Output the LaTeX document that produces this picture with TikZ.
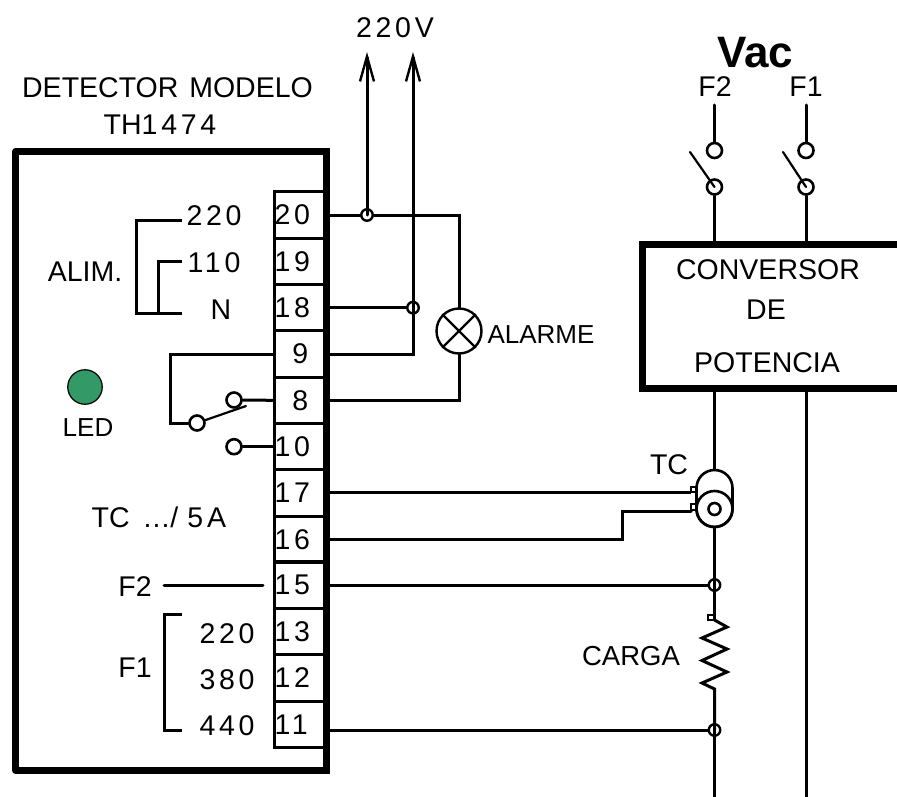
\documentclass[tikz,border=0pt]{standalone}
\usepackage{fontspec}
\setmainfont{Liberation Sans}
\newfontfamily\spcfont[LetterSpace=13]{Liberation Sans}
\usetikzlibrary{arrows.meta}
\definecolor{ledgreen}{HTML}{339966}
\tikzset{
  wire/.style={line width=3pt,line cap=round,line join=miter},
  thin wire/.style={line width=2.2pt,line cap=round},
  heavy/.style={line width=7pt,line join=round},
  term/.style={draw,line width=3pt,minimum width=52.5pt,minimum height=46.33pt,inner sep=0pt,text width=52.5pt,align=left,font=\fontsize{28.5}{28.5}\selectfont\spcfont},
  termc/.style={term,align=center},
  txt/.style={inner sep=0pt,font=\fontsize{28.5}{34}\selectfont},
  stxt/.style={inner sep=0pt,font=\fontsize{28.5}{34}\selectfont\spcfont},
  dot/.style={circle,draw,line width=2.4pt,inner sep=0pt,minimum size=11.5pt},
  contact/.style={circle,draw,fill=white,line width=2.6pt,inner sep=0pt,minimum size=15pt},
  pad/.style={rectangle,draw,fill=white,line width=2.2pt,inner sep=0pt,minimum size=5.5pt},
  barb/.style={-{Straight Barb[length=25pt,width=14pt,line width=2.4pt]}}
}
\begin{document}
\begin{tikzpicture}[x=1pt,y=-1pt]
\useasboundingbox (0,0) rectangle (897,797);

% main box
\node[draw,heavy,minimum width=311pt,minimum height=618pt,inner sep=0pt] (det) at (171,461) {};

% terminal strip
\foreach \lab/\yy in {20/215,19/261.5,18/307.7,15/585,13/631.5,12/678,11/724.5,10/446.7,17/493,16/539.3}{
  \node[term] (t\lab) at (300.3,\yy) {\hspace*{0.5pt}\lab};
}
\foreach \lab/\yy in {9/354,8/400.3}{
  \node[termc] (t\lab) at (300.3,\yy) {\lab};
}
\draw[heavy] (326.5,148.5) -- (326.5,773.5);

% converter
\coordinate (cTR) at (897,244.5);
\coordinate (cTL) at (642.5,244.5);
\coordinate (cBL) at (642.5,388.5);
\coordinate (cBR) at (897,388.5);
\draw[heavy,line join=miter] (cTR) -- (cTL) -- (cBL) -- (cBR);
\node[txt] (conv1) at (768,270) {CONVERSOR};
\node[txt] (conv2) at (766,310) {DE};
\node[txt] (conv3) at (767,363) {POTENCIA};

% mains labels and switches
\node[inner sep=0pt,font=\fontsize{44}{44}\selectfont\bfseries] (vac) at (755,53) {Vac};
\node[txt] (lf2) at (715,87) {F2};
\node[txt] (lf1) at (806,87) {F1};
\coordinate (top2) at (714.5,105);
\coordinate (top1) at (806,105);
\node[contact] (s2a) at (714.5,150.5) {};
\node[contact] (s2b) at (714.5,187) {};
\node[contact] (s1a) at (806,150.5) {};
\node[contact] (s1b) at (806,187) {};
\coordinate (b2) at (690,152);
\coordinate (b1) at (783,152);
\coordinate (in2) at (714.5,243);
\coordinate (in1) at (806,243);
\draw[wire] (top2) -- (s2a);
\draw[wire] (top1) -- (s1a);
\draw[wire] (s2b) -- (in2);
\draw[wire] (s1b) -- (in1);
\draw[thin wire] (s2b.center) -- (b2);
\draw[thin wire] (s1b.center) -- (b1);

% titles
\node[txt,align=center] (title) at (167.5,88) {DETECTOR\hspace{3pt} MODELO};
\node[txt] (model) at (160,125) {TH{\spcfont 1474}};
\node[stxt] (v220) at (395,28) {220V};

% 220V feed
\coordinate (a1) at (367,52);
\coordinate (a2) at (413,52);
\node[dot] (j20) at (367,215) {};
\node[dot] (j18) at (413,307.7) {};
\draw[wire,barb] (j20.center) -- (a1);
\draw[wire,barb] (413,353.5) -- (a2);

% alarm
\node[circle,draw,line width=2.4pt,inner sep=0pt,minimum size=45pt] (lamp) at (459,331) {};
\draw[line width=2.2pt] (lamp.45) -- (lamp.225) (lamp.135) -- (lamp.315);
\node[txt,font=\fontsize{26}{30}\selectfont] (alarme) at (541,335) {ALARME};
\draw[wire] (t20.east) -- (j20) (j20) -- (lamp.north |- j20) -- (lamp.north);
\draw[wire] (lamp.south) -- (lamp.south |- t8) -- (t8.east);
\draw[wire] (t18.east) -- (j18);
\draw[wire] (t9.east) -- (j18 |- t9) -- (j18.south);

% supply selection
\node[stxt] (a220) at (214,216) {220};
\node[stxt] (a110) at (214,263) {110};
\node[txt] (an) at (221,310) {N};
\node[txt] (alim) at (85,272) {ALIM.};
\coordinate (p220) at (182,220);
\coordinate (p110) at (182,261);
\coordinate (pn) at (182,313);
\draw[wire,line cap=butt] (p220) -- (136,220) -- (136,313) -- (pn);
\draw[wire,line cap=butt] (p110) -- (158,261) -- (158,313);

% relay
\node[contact] (rc) at (197,423) {};
\node[contact] (ru) at (234,400) {};
\node[contact] (rl) at (234,446.7) {};
\coordinate (rb) at (246,406);
\draw[wire] (t9.west) -- (170,354) -- (170,423) -- (rc);
\draw[wire] (t8.west) -- (ru);
\draw[wire] (t10.west) -- (rl);
\draw[thin wire] (rc) -- (rb);

% LED
\node[circle,draw,fill=ledgreen,line width=1.2pt,inner sep=0pt,minimum size=34.5pt] (led) at (85,387) {};
\node[txt,font=\fontsize{26}{30}\selectfont] (ledt) at (88,428) {LED};
\node[txt] (tca) at (159,517) {TC\hspace{14pt}.\hspace{1pt}.\hspace{1pt}.\hspace{1pt}/\hspace{9pt}5\hspace{4pt}A};

% F1/F2 side
\node[txt] (lf2b) at (135,587) {F2};
\node[txt] (lf1b) at (135,668) {F1};
\coordinate (f2s) at (164,585);
\coordinate (f2e) at (263,585);
\draw[wire] (f2s) -- (f2e);
\coordinate (bt) at (182,614);
\coordinate (bb) at (182,730);
\draw[wire,line cap=butt] (bt) -- (164,614) -- (164,730) -- (bb);
\node[stxt] (b220) at (227,634) {220};
\node[stxt] (b380) at (227,680) {380};
\node[stxt] (b440) at (227,726) {440};

% current transformer
\coordinate (endA) at (714.5,797);
\coordinate (endB) at (806,797);
\coordinate (out2) at (714.5,392);
\coordinate (out1) at (806,392);
\node[dot] (j15) at (714.5,585) {};
\node[dot] (j11) at (714.5,730) {};
\node[draw,fill=white,line width=2.6pt,rounded corners=18pt,minimum width=36pt,minimum height=57pt,inner sep=0pt] (ctbody) at (714.5,498.5) {};
\draw[wire] (out2) -- (ctbody.north);
\draw[wire,line cap=butt] (out1) -- (endB);
\draw[wire,line cap=butt] (j11.center) -- (endA);
\node[circle,draw,line width=2.6pt,inner sep=0pt,minimum size=36pt] (ct) at (714.5,509) {};
\node[circle,draw,line width=2.6pt,inner sep=0pt,minimum size=12pt] (cti) at (714.5,509) {};
\node[pad] (pa) at (693.5,489.5) {};
\node[pad] (pb) at (693.5,507) {};
\node[txt] (tct) at (669,465) {TC};
\draw[wire,line cap=butt] (t17.east |- 0,492) -- (691,492);
\draw[wire] (t16.east) -- (622,539.3) -- (622,511) -- (691,511);

% load
\coordinate (r0) at (714.5,620);
\coordinate (r1) at (714.5,689);
\draw[wire,line cap=butt] (ctbody.south) -- (r0);
\draw[wire,line join=miter] (r0) -- (727,627) -- (702,638) -- (727,649) -- (702,660.5) -- (727,672) -- (702,683) -- (r1) -- (j11.center);
\node[pad] (pc) at (711,617.5) {};
\node[txt,font=\fontsize{27.5}{32}\selectfont] (carga) at (631,656) {CARGA};
\draw[wire] (t15.east) -- (j15);
\draw[wire] (j11) -- (j11 -| t11.east);
\end{tikzpicture}
\end{document}
